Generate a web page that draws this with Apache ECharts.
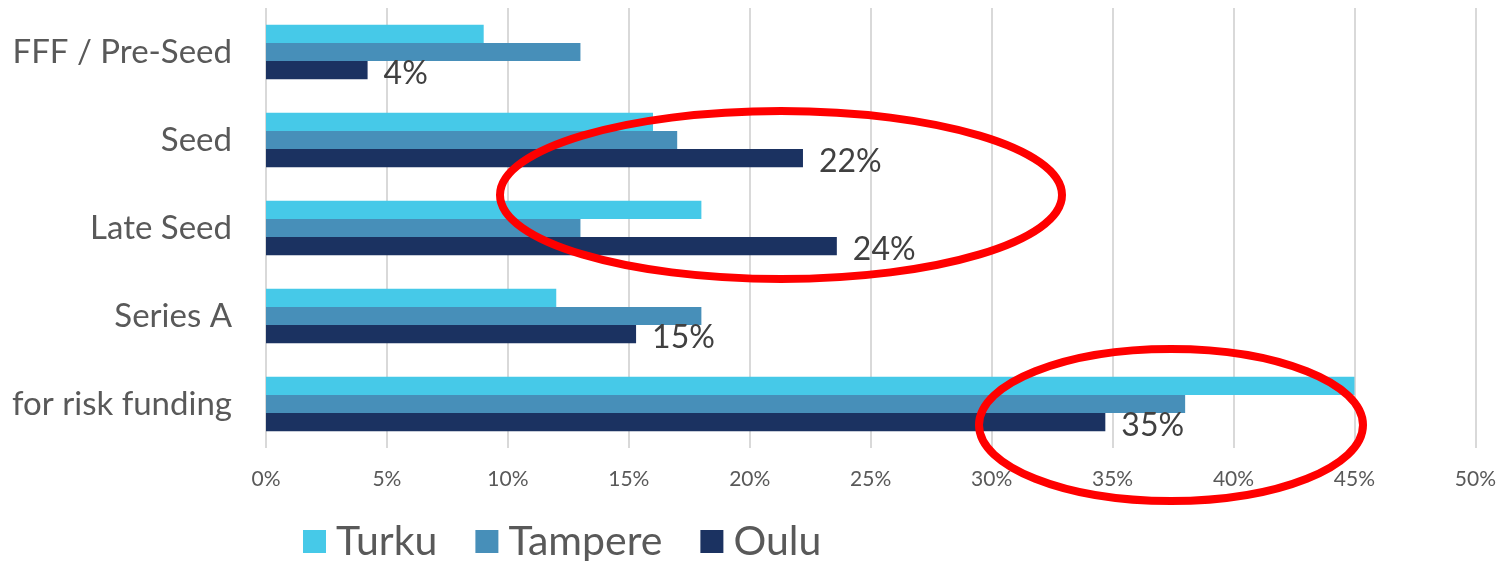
<!DOCTYPE html>
<html>
<head>
<meta charset="utf-8">
<script src="https://cdn.jsdelivr.net/npm/echarts@6/dist/echarts.min.js"></script>
<style>
html,body{margin:0;padding:0;background:#fff;}
#c{width:1499px;height:561px;}
</style>
</head>
<body>
<div id="c"></div>
<script>
const categories = ['FFF / Pre-Seed', 'Seed', 'Late Seed', 'Series A', 'for risk funding'];
const turku = [9, 16, 18, 12, 45];
const tampere = [13, 17, 13, 18, 38];
const oulu = [4.2, 22.2, 23.6, 15.3, 34.7];
const xTicks = [0, 5, 10, 15, 20, 25, 30, 35, 40, 45, 50];

const FONT = 'Lato';
const chart = echarts.init(document.getElementById('c'), null, {renderer: 'canvas'});
chart.setOption({
  backgroundColor: '#ffffff',
  animation: false,
  textStyle: {fontFamily: FONT},
  grid: {left: 266, right: 22, top: 8, bottom: 113, containLabel: false},
  legend: {
    left: 303, top: 521, padding: 0,
    itemWidth: 23, itemHeight: 23, itemGap: 38,
    icon: 'rect',
    textStyle: {fontSize: 41, color: '#595959', fontFamily: FONT, padding: [0, 0, 0, 5]},
    data: ['Turku', 'Tampere', 'Oulu']
  },
  xAxis: {
    type: 'value', min: xTicks[0], max: xTicks[xTicks.length - 1], interval: 5,
    axisLine: {show: false}, axisTick: {show: false},
    splitLine: {show: true, lineStyle: {color: '#d9d9d9', width: 2}},
    axisLabel: {formatter: '{value}%', fontSize: 21, color: '#595959', margin: 21, fontFamily: FONT}
  },
  yAxis: {
    type: 'category', data: categories, inverse: true,
    axisLine: {show: false}, axisTick: {show: false},
    axisLabel: {fontSize: 33, color: '#595959', margin: 34, fontFamily: FONT}
  },
  series: [
    {name: 'Turku', type: 'bar', data: turku, barGap: '0%', barCategoryGap: '38%',
     itemStyle: {color: '#46C9E8'}},
    {name: 'Tampere', type: 'bar', data: tampere, barGap: '0%', barCategoryGap: '38%',
     itemStyle: {color: '#478FB9'}},
    {name: 'Oulu', type: 'bar', data: oulu, barGap: '0%', barCategoryGap: '38%',
     itemStyle: {color: '#1B3261'},
     label: {show: true, position: 'right', distance: 16, offset: [0, 4],
       fontSize: 32, color: '#404040', fontFamily: FONT,
       formatter: p => Math.round(p.value) + '%'}}
  ],
  graphic: [
    {type: 'ellipse', shape: {cx: 781, cy: 195, rx: 281, ry: 84}, z: 100,
     style: {fill: null, stroke: '#FF0000', lineWidth: 8}},
    {type: 'ellipse', shape: {cx: 1171, cy: 425, rx: 192, ry: 76}, z: 100,
     style: {fill: null, stroke: '#FF0000', lineWidth: 8}}
  ]
});
</script>
</body>
</html>
